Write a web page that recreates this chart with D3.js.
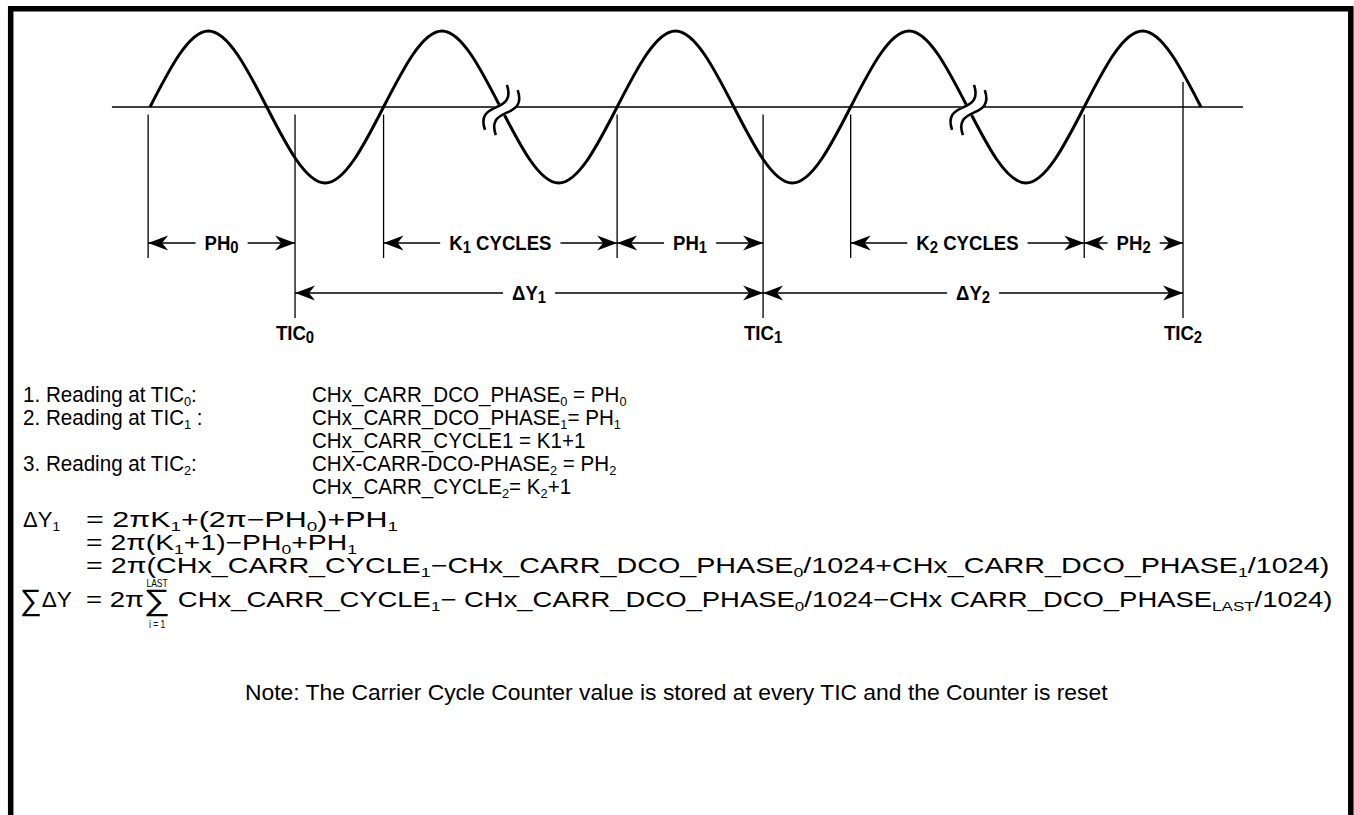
<!DOCTYPE html>
<html>
<head>
<meta charset="utf-8">
<script src="https://cdn.jsdelivr.net/npm/d3@7"></script>
<style>
html, body { margin: 0; padding: 0; background: #fff; }
svg { display: block; }
text { fill: #000; }
</style>
</head>
<body>
<svg id="fig"></svg>
<script>
// ---- data (t = carrier cycles from the first up-crossing) ----
var waveT = [0, 0.25, 0.5, 0.75, 1, 1.25, 1.5, 1.75, 2, 2.25, 2.5, 2.75, 3, 3.25, 3.5, 3.75, 4, 4.25, 4.5];
var waveV = [0, 1, 0, -1, 0, 1, 0, -1, 0, 1, 0, -1, 0, 1, 0, -1, 0, 1, 0];
var axisT = [-0.163, 4.68];
var breakT = [1.5, 3.5];
var boundaryT = [-0.008, 1, 2, 3, 4];
var ticT = [0.621, 2.625, 4.423];
var ticTop = [-0.1, -0.1, 0.33];
var ticNames = [["TIC", "0"], ["TIC", "1"], ["TIC", "2"]];

var spanFrom = [-0.008, 1, 2, 3, 4];
var spanTo = [0.621, 2, 2.625, 4, 4.423];
var spanLabels = [["PH", "0", ""], ["K", "1", " CYCLES"], ["PH", "1", ""], ["K", "2", " CYCLES"], ["PH", "2", ""]];
var deltaFrom = [0.621, 2.625];
var deltaTo = [2.625, 4.423];
var deltaLabels = [["\u0394Y", "1", ""], ["\u0394Y", "2", ""]];

var readLabels = ["1. Reading at TIC{0}:", "2. Reading at TIC{1} :", "", "3. Reading at TIC{2}:", ""];
var readValues = [
  "CHx_CARR_DCO_PHASE{0} = PH{0}",
  "CHx_CARR_DCO_PHASE{1}= PH{1}",
  "CHx_CARR_CYCLE1 = K1+1",
  "CHX-CARR-DCO-PHASE{2} = PH{2}",
  "CHx_CARR_CYCLE{2}= K{2}+1"
];
var deltaHead = "\u0394Y{1}";
var deltaLines = [
  "= 2\u03C0K{1}+(2\u03C0\u2212PH{0})+PH{1}",
  "= 2\u03C0(K{1}+1)\u2212PH{0}+PH{1}",
  "= 2\u03C0(CHx_CARR_CYCLE{1}\u2212CHx_CARR_DCO_PHASE{0}/1024+CHx_CARR_DCO_PHASE{1}/1024)"
];
var sumHead = "[\u2211]\u0394Y";
var sumLine = "= 2\u03C0[\u2211] CHx_CARR_CYCLE{1}\u2212 CHx_CARR_DCO_PHASE{0}/1024\u2212CHx CARR_DCO_PHASE{LAST}/1024)";
var sumLimits = ["LAST", "i = 1"];
var noteText = "Note: The Carrier Cycle Counter value is stored at every TIC and the Counter is reset";

// ---- layout ----
var W = 1354, H = 815;
var bodyFont = "'Liberation Sans', Arial, Helvetica, sans-serif";
var labelFont = "'Liberation Sans', Arial, Helvetica, sans-serif";

var svg = d3.select("#fig").attr("width", W).attr("height", H);

// frame (bottom edge is outside the picture)
svg.append("path")
  .attr("d", "M10.7," + (H + 10) + "V8.8H1350.8V" + (H + 10))
  .attr("fill", "none").attr("stroke", "#000").attr("stroke-width", 5.5)
  .attr("stroke-linejoin", "miter");

var x = d3.scaleLinear().domain([0, 4.5]).range([150, 1201]);
var y = d3.scaleLinear().domain([-1, 1]).range([183, 31]);

var rowPH = 243, rowDY = 293, shortBottom = 258, ticBottom = 318, ticLabelY = 340;

// horizontal axis
svg.append("line")
  .attr("x1", x(axisT[0])).attr("x2", x(axisT[1]))
  .attr("y1", y(0)).attr("y2", y(0))
  .attr("stroke", "#000").attr("stroke-width", 1.4);

// carrier
var pts = waveT.map(function (t, i) { return [t, waveV[i]]; });
svg.append("path")
  .datum(pts)
  .attr("d", d3.line().x(function (d) { return x(d[0]); }).y(function (d) { return y(d[1]); }).curve(d3.curveNatural))
  .attr("fill", "none").attr("stroke", "#000").attr("stroke-width", 3);

// vertical reference lines
svg.selectAll("line.bound").data(boundaryT).enter().append("line")
  .attr("class", "bound")
  .attr("x1", function (d) { return x(d); }).attr("x2", function (d) { return x(d); })
  .attr("y1", y(-0.1)).attr("y2", shortBottom)
  .attr("stroke", "#000").attr("stroke-width", 1.3);

svg.selectAll("line.tic").data(ticT).enter().append("line")
  .attr("class", "tic")
  .attr("x1", function (d) { return x(d); }).attr("x2", function (d) { return x(d); })
  .attr("y1", function (d, i) { return y(ticTop[i]); }).attr("y2", ticBottom)
  .attr("stroke", "#000").attr("stroke-width", 1.3);

// break marks
var tilde = "M-25,0C-15,-10 -8,-7 0,0S15,10 25,0";
breakT.forEach(function (t) {
  var g = svg.append("g").attr("transform", "translate(" + (x(t) + 1) + "," + (y(0) + 3) + ") rotate(-64)");
  g.append("path").attr("d", tilde).attr("fill", "none").attr("stroke", "#fff").attr("stroke-width", 12);
  [-6, 6].forEach(function (o) {
    g.append("path").attr("d", tilde).attr("transform", "translate(0," + o + ")")
      .attr("fill", "none").attr("stroke", "#000").attr("stroke-width", 2.6);
  });
});

// dimension arrows
function head(g, tipX, yy, dir) {
  var L = 20, hw = 7.5, n = 14;
  g.append("path")
    .attr("d", "M" + tipX + "," + yy + "L" + (tipX - dir * L) + "," + (yy - hw) +
      "L" + (tipX - dir * n) + "," + yy + "L" + (tipX - dir * L) + "," + (yy + hw) + "Z")
    .attr("fill", "#000");
}
var labelScale = 0.93;
function boldLabel(g, parts, cx, baseline) {
  var t = g.append("text")
    .attr("font-family", labelFont).attr("font-weight", "bold").attr("font-size", 20)
    .attr("text-anchor", "middle")
    .attr("transform", "translate(" + cx + "," + baseline + ") scale(" + labelScale + ",1)");
  t.append("tspan").text(parts[0]);
  t.append("tspan").attr("font-size", 16).attr("dy", 3).text(parts[1]);
  if (parts[2]) t.append("tspan").attr("dy", -3).text(parts[2]);
  return t;
}
function dimension(x1, x2, yy, parts) {
  var g = svg.append("g");
  g.append("line").attr("x1", x1).attr("x2", x2).attr("y1", yy).attr("y2", yy)
    .attr("stroke", "#000").attr("stroke-width", 1.3);
  var cx = (x1 + x2) / 2;
  var bg = g.append("rect").attr("fill", "#fff");
  var t = boldLabel(g, parts, cx, yy + 7);
  var w = t.node().getComputedTextLength() * labelScale;
  bg.attr("x", cx - w / 2 - 9).attr("y", yy - 10).attr("width", w + 18).attr("height", 20);
  head(g, x1, yy, -1);
  head(g, x2, yy, 1);
}
spanFrom.forEach(function (f, i) { dimension(x(f), x(spanTo[i]), rowPH, spanLabels[i]); });
deltaFrom.forEach(function (f, i) { dimension(x(f), x(deltaTo[i]), rowDY, deltaLabels[i]); });

ticT.forEach(function (t, i) { boldLabel(svg, ticNames[i], x(t), ticLabelY); });

// ---- formula block ----
var fs = 22;
function rich(str, size) {
  var t = svg.append("text").attr("font-family", bodyFont).attr("font-size", size);
  var parts = str.split(/(\{[^}]*\}|\[[^\]]*\])/);
  var shift = 0;
  parts.forEach(function (p) {
    if (!p) return;
    var target = 0, txt = p, f = null, cls = null;
    if (p[0] === "{") { target = 4; txt = p.slice(1, -1); f = size * 0.62; }
    else if (p[0] === "[") { target = 3; txt = p.slice(1, -1); f = size * 1.35; cls = "big"; }
    var ts = t.append("tspan");
    if (target !== shift) ts.attr("dy", target - shift);
    shift = target;
    if (f) ts.attr("font-size", f);
    if (cls) ts.attr("class", cls);
    ts.text(txt);
  });
  return t;
}
function place(t, x0, baseline, s) {
  t.attr("transform", "translate(" + x0 + "," + baseline + ") scale(" + s + ",1)").datum(s);
  return t;
}
// a line stretched so that it runs from x0 to x1
function fitLine(str, x0, x1, baseline) {
  var t = rich(str, fs);
  return place(t, x0, baseline, (x1 - x0) / t.node().getComputedTextLength());
}

// reading table: one condensed scale taken from the first label
var readBase = [402, 425, 448, 471, 494];
var first = fitLine(readLabels[0], 23, 197, readBase[0]);
var rs = first.datum();
readLabels.forEach(function (s, i) {
  if (s && i > 0) place(rich(s, fs), 23, readBase[i], rs);
  place(rich(readValues[i], fs), 312, readBase[i], rs);
});

fitLine(deltaHead, 23, 60, 527);
fitLine(deltaLines[0], 86, 398, 527);
fitLine(deltaLines[1], 86, 357, 550);
fitLine(deltaLines[2], 86, 1330, 573);

fitLine(sumHead, 20, 72, 607);
var sumT = fitLine(sumLine, 86, 1333, 607);
var ss = sumT.datum();
var big = sumT.select("tspan.big").node().getBBox();
var sumCx = 86 + (big.x + big.width / 2) * ss;
[[sumLimits[0], 587], [sumLimits[1], 628]].forEach(function (d) {
  svg.append("text").attr("font-family", bodyFont).attr("font-size", 10).attr("text-anchor", "middle")
    .attr("transform", "translate(" + sumCx + "," + d[1] + ") scale(0.85,1)").text(d[0]);
});

fitLine(noteText, 245, 1108, 700);
</script>
</body>
</html>
